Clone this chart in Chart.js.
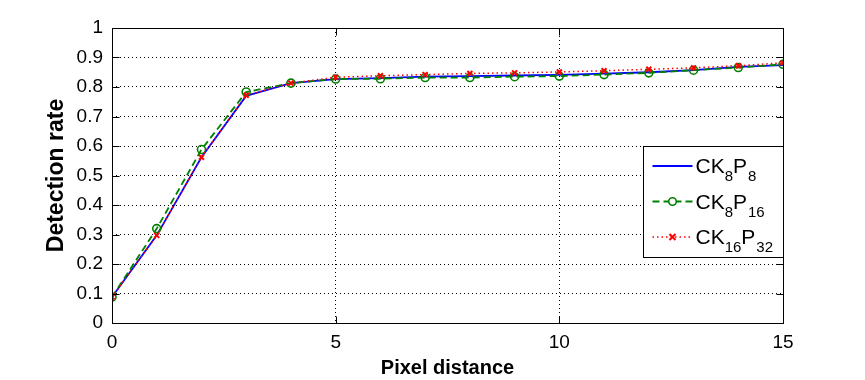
<!DOCTYPE html>
<html>
<head>
<meta charset="utf-8">
<script src="https://cdn.jsdelivr.net/npm/chart.js@4.4.0/dist/chart.umd.min.js"></script>
<style>
html,body{margin:0;padding:0;background:#fff;}
#wrap{width:865px;height:380px;}
</style>
</head>
<body>
<div id="wrap"><canvas id="c" width="865" height="380"></canvas></div>
<script>
const pixelDistance = [0,1,2,3,4,5,6,7,8,9,10,11,12,13,14,15];
const ck8p8   = [0.088,0.297,0.562,0.770,0.813,0.827,0.830,0.835,0.837,0.839,0.841,0.845,0.850,0.857,0.868,0.874];
const ck8p16  = [0.088,0.320,0.588,0.783,0.813,0.827,0.828,0.832,0.832,0.835,0.837,0.842,0.848,0.857,0.866,0.877];
const ck16p32 = [0.088,0.297,0.562,0.772,0.813,0.833,0.838,0.842,0.846,0.848,0.851,0.855,0.860,0.865,0.872,0.882];
const xTicks = [0,5,10,15];
const yTicks = [0,0.1,0.2,0.3,0.4,0.5,0.6,0.7,0.8,0.9,1];
const legendEntries = [
  {base:'CK', s1:'8', mid:'P', s2:'8'},
  {base:'CK', s1:'8', mid:'P', s2:'16'},
  {base:'CK', s1:'16', mid:'P', s2:'32'}
];

const BLUE='rgb(0,0,255)', GREEN='rgb(0,128,0)', RED='rgb(255,0,0)';
const SANS = '"Liberation Sans",Arial,Helvetica,sans-serif';

function pts(arr){ return arr.map((v,i)=>({x:pixelDistance[i], y:v})); }

const boxPlugin = {
  id:'boxPlugin',
  afterDraw(chart){
    const ctx = chart.ctx, a = chart.chartArea;
    const xs = chart.scales.x, ys = chart.scales.y;
    ctx.save();
    ctx.strokeStyle = '#000';
    ctx.lineWidth = 1;
    ctx.beginPath();
    const L=Math.round(a.left)+0.5, R=Math.round(a.right)+0.5, T=Math.round(a.top)+0.5, B=Math.round(a.bottom)+0.5;
    ctx.rect(L,T,R-L,B-T);
    const tl = 7;
    yTicks.forEach(v=>{
      const y = Math.round(ys.getPixelForValue(v))+0.5;
      ctx.moveTo(L,y); ctx.lineTo(L+tl,y);
      ctx.moveTo(R,y); ctx.lineTo(R-tl,y);
    });
    xTicks.forEach(v=>{
      const x = Math.round(xs.getPixelForValue(v))+0.5;
      ctx.moveTo(x,B); ctx.lineTo(x,B-tl);
      ctx.moveTo(x,T); ctx.lineTo(x,T+tl);
    });
    ctx.stroke();

    // legend
    const lw = 140, lh = 111;
    const lx = Math.round(a.right - lw)+0.5;
    const ly = Math.round(a.top + a.height*0.4)+0.5;
    ctx.fillStyle = '#fff';
    ctx.fillRect(lx, ly, lw, lh);
    ctx.strokeStyle = '#000';
    ctx.lineWidth = 1;
    ctx.strokeRect(lx, ly, lw, lh);
    const styles = [
      {c:BLUE, dash:[], w:1.8, marker:null},
      {c:GREEN, dash:[7,4], w:1.8, marker:'circle'},
      {c:RED, dash:[1.5,3], w:1.5, marker:'x'}
    ];
    legendEntries.forEach((e,i)=>{
      const cy = ly + 19.5 + i*35.5;
      const st = styles[i];
      const x0 = lx + 9, x1 = lx + 49;
      ctx.save();
      ctx.strokeStyle = st.c; ctx.lineWidth = st.w; ctx.setLineDash(st.dash);
      ctx.beginPath(); ctx.moveTo(x0,cy); ctx.lineTo(x1,cy); ctx.stroke();
      ctx.setLineDash([]);
      const mx = (x0+x1)/2;
      if(st.marker==='circle'){
        ctx.fillStyle='#fff';
        ctx.beginPath(); ctx.arc(mx,cy,3.8,0,Math.PI*2); ctx.fill();
        ctx.lineWidth=1.6; ctx.stroke();
      } else if(st.marker==='x'){
        ctx.lineWidth=2; ctx.beginPath();
        ctx.moveTo(mx-3,cy-3); ctx.lineTo(mx+3,cy+3);
        ctx.moveTo(mx+3,cy-3); ctx.lineTo(mx-3,cy+3); ctx.stroke();
      }
      ctx.restore();
      ctx.fillStyle = '#000';
      ctx.textBaseline = 'alphabetic';
      ctx.textAlign = 'left';
      let tx = lx + 52;
      const base = cy + 7;
      const big = '21px '+SANS, small = '15px '+SANS;
      ctx.font = big; ctx.fillText(e.base, tx, base); tx += ctx.measureText(e.base).width;
      ctx.font = small; ctx.fillText(e.s1, tx, base+8); tx += ctx.measureText(e.s1).width;
      ctx.font = big; ctx.fillText(e.mid, tx, base); tx += ctx.measureText(e.mid).width + 1;
      ctx.font = small; ctx.fillText(e.s2, tx, base+8);
    });
    ctx.restore();
  }
};

new Chart(document.getElementById('c'), {
  type:'line',
  data:{
    datasets:[
      {label:'CK8P8', data:pts(ck8p8), borderColor:BLUE, backgroundColor:BLUE, borderWidth:1.8,
       pointRadius:0, tension:0, order:3},
      {label:'CK8P16', data:pts(ck8p16), borderColor:GREEN, backgroundColor:'rgba(0,0,0,0)', borderWidth:1.8,
       borderDash:[7,4], pointStyle:'circle', pointRadius:4, pointBorderWidth:1.6, pointBorderColor:GREEN,
       pointBackgroundColor:'rgba(0,0,0,0)', tension:0, order:2},
      {label:'CK16P32', data:pts(ck16p32), borderColor:RED, backgroundColor:RED, borderWidth:1.5,
       borderDash:[1.5,3], pointStyle:'crossRot', pointRadius:3.5, pointBorderWidth:2, pointBorderColor:RED,
       tension:0, order:1}
    ]
  },
  options:{
    responsive:false,
    animation:false,
    events:[],
    layout:{padding:{top:28,right:82,left:0,bottom:0}},
    plugins:{legend:{display:false}, tooltip:{enabled:false}},
    scales:{
      x:{
        type:'linear', min:0, max:15,
        afterBuildTicks(s){ s.ticks = xTicks.map(v=>({value:v})); },
        afterFit(s){ s.height = 57; },
        ticks:{ color:'#000', padding:8, maxRotation:0, font:{family:SANS, size:19},
          callback:v=>String(v) },
        grid:{ drawTicks:false, lineWidth:1,
          color:c=> (c.tick && (c.tick.value===0 || c.tick.value===15)) ? 'rgba(0,0,0,0)' : '#000' },
        border:{ display:false, dash:[1,3] },
        title:{ display:true, text:'Pixel distance', color:'#000', padding:{top:2,bottom:0},
          font:{family:SANS, size:20, weight:'bold'} }
      },
      y:{
        type:'linear', min:0, max:1,
        afterBuildTicks(s){ s.ticks = yTicks.map(v=>({value:v})); },
        afterFit(s){ s.width = 112; },
        ticks:{ color:'#000', padding:9, font:{family:SANS, size:19},
          callback:v=>String(Math.round(v*10)/10) },
        grid:{ drawTicks:false, lineWidth:1,
          color:c=> (c.tick && (c.tick.value===0 || c.tick.value===1)) ? 'rgba(0,0,0,0)' : '#000' },
        border:{ display:false, dash:[1,3] },
        title:{ display:true, text:'Detection rate', color:'#000', padding:{top:43,bottom:0},
          font:{family:SANS, size:23, weight:'bold'} }
      }
    }
  },
  plugins:[boxPlugin]
});
</script>
</body>
</html>
